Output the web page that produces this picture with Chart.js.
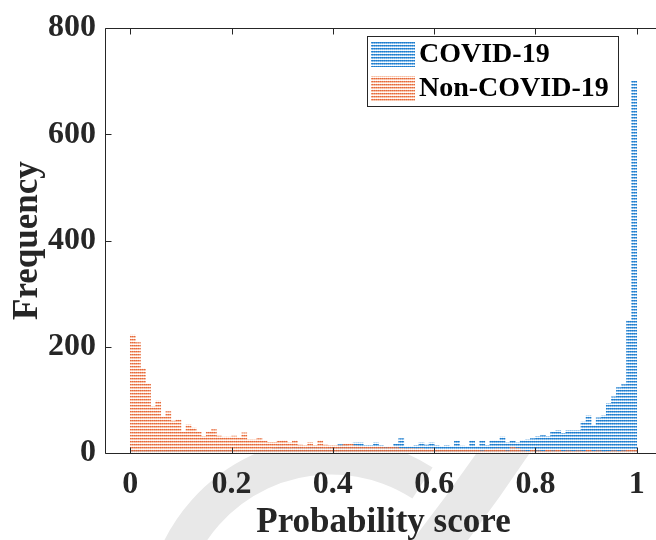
<!DOCTYPE html>
<html><head><meta charset="utf-8">
<script src="https://cdn.jsdelivr.net/npm/chart.js@4/dist/chart.umd.min.js"></script>
<style>
html,body{margin:0;padding:0;background:#fff;overflow:hidden;width:656px;height:540px;}
#wrap{position:absolute;left:0;top:0;width:680px;height:540px;}
</style></head><body>
<div id="wrap"><canvas id="c" width="680" height="540"></canvas></div>
<script>
const binCenters = [
0.005,0.015,0.025,0.035,0.045,0.055,0.065,0.075,0.085,0.095,
0.105,0.115,0.125,0.135,0.145,0.155,0.165,0.175,0.185,0.195,
0.205,0.215,0.225,0.235,0.245,0.255,0.265,0.275,0.285,0.295,
0.305,0.315,0.325,0.335,0.345,0.355,0.365,0.375,0.385,0.395,
0.405,0.415,0.425,0.435,0.445,0.455,0.465,0.475,0.485,0.495,
0.505,0.515,0.525,0.535,0.545,0.555,0.565,0.575,0.585,0.595,
0.605,0.615,0.625,0.635,0.645,0.655,0.665,0.675,0.685,0.695,
0.705,0.715,0.725,0.735,0.745,0.755,0.765,0.775,0.785,0.795,
0.805,0.815,0.825,0.835,0.845,0.855,0.865,0.875,0.885,0.895,
0.905,0.915,0.925,0.935,0.945,0.955,0.965,0.975,0.985,0.995];
const covid = [
6,5,4,6,4,5,4,5,6,4,
5,6,4,5,6,5,4,7,5,6,
5,7,6,5,7,6,8,7,9,13,
10,9,11,10,9,12,11,10,9,11,
10,16,15,12,19,19,14,14,19,14,
11,11,17,27,12,12,14,19,15,19,
14,12,14,12,23,13,12,23,12,23,
14,23,23,30,19,22,19,24,25,27,
31,33,31,39,42,37,42,42,42,58,
70,52,66,70,93,106,123,129,250,700];
const nonCovid = [
222,208,159,130,87,98,67,78,60,63,
39,53,47,39,31,40,44,32,30,30,
32,28,38,25,25,27,23,20,20,23,
24,19,24,15,14,20,14,24,15,14,
14,14,17,17,14,12,11,11,11,11,
10,11,10,9,8,9,8,9,7,8,
7,6,7,5,6,5,7,5,6,4,
5,6,8,5,4,10,9,4,3,5,
4,3,5,4,5,3,4,3,4,3,
5,3,4,2,3,4,3,4,6,5];
const xTicks = [0, 0.2, 0.4, 0.6, 0.8, 1];
const yTicks = [0, 200, 400, 600, 800];
const seriesLabels = ['COVID-19', 'Non-COVID-19'];
const xTitle = 'Probability score';
const yTitle = 'Frequency';

function makePattern(rows) {
  const c = document.createElement('canvas');
  c.width = 2; c.height = rows.length;
  const g = c.getContext('2d');
  rows.forEach((col, i) => {
    g.fillStyle = col[0]; g.fillRect(0, i, 1, 1);
    g.fillStyle = col[1]; g.fillRect(1, i, 1, 1);
  });
  return document.createElement('canvas').getContext('2d').createPattern(c, 'repeat');
}
const bluePat = makePattern([
  ['#1c7ccc', '#3a8fd6'],
  ['#7db6e6', '#a4cbee'],
  ['#eef5fc', '#ffffff']
]);
const orangePat = makePattern([
  ['rgba(228,98,48,0.95)', 'rgba(236,130,90,0.9)'],
  ['rgba(244,170,135,0.75)', 'rgba(248,190,160,0.7)'],
  ['rgba(253,232,222,0.55)', 'rgba(255,255,255,0.3)']
]);

const FONT = 'Liberation Serif, Times New Roman, serif';

// faint background watermark seen below the axes in the reference
const watermark = {
  id: 'watermark',
  beforeDraw(chart) {
    const ctx = chart.ctx;
    const a = chart.chartArea;
    ctx.save();
    ctx.beginPath();
    ctx.rect(0, a.bottom + 1, chart.width, chart.height - a.bottom);
    ctx.clip();
    ctx.strokeStyle = '#e8e8e8';
    ctx.lineCap = 'butt';
    ctx.lineWidth = 37;
    ctx.beginPath();
    ctx.arc(331, 624, 168, Math.PI * 200 / 180, Math.PI * 303 / 180);
    ctx.stroke();
    ctx.lineWidth = 44;
    ctx.beginPath();
    ctx.moveTo(425, 560);
    ctx.quadraticCurveTo(472, 500, 512, 440);
    ctx.stroke();
    ctx.restore();
  }
};

const overlay = {
  id: 'overlay',
  afterDraw(chart) {
    const ctx = chart.ctx;
    const a = chart.chartArea;
    const xs = chart.scales.x, ys = chart.scales.y;
    ctx.save();
    ctx.strokeStyle = '#262626';
    ctx.lineWidth = 1;
    ctx.beginPath();
    const T = Math.round(a.top) + 0.5, B = Math.round(a.bottom) + 0.5;
    const L = Math.round(a.left) + 0.5, R = Math.round(a.right) + 0.5;
    ctx.moveTo(L, T); ctx.lineTo(R, T); ctx.lineTo(R, B); ctx.lineTo(L, B); ctx.closePath();
    xTicks.forEach(v => {
      const px = Math.round(xs.getPixelForValue(v)) + 0.5;
      ctx.moveTo(px, B); ctx.lineTo(px, B - 6);
      ctx.moveTo(px, T); ctx.lineTo(px, T + 6);
    });
    yTicks.forEach(v => {
      const py = Math.round(ys.getPixelForValue(v)) + 0.5;
      ctx.moveTo(L, py); ctx.lineTo(L + 6, py);
    });
    ctx.stroke();

    // legend
    const bx = 367.5, by = 36.5, bw = 251, bh = 70;
    ctx.fillStyle = '#fff';
    ctx.fillRect(bx, by, bw, bh);
    ctx.strokeStyle = '#262626';
    ctx.strokeRect(bx, by, bw, bh);
    const pats = [bluePat, orangePat];
    const rowsY = [42, 76];
    ctx.font = 'bold 28px ' + FONT;
    ctx.textBaseline = 'middle';
    ctx.textAlign = 'left';
    seriesLabels.forEach((lab, i) => {
      ctx.fillStyle = pats[i];
      ctx.fillRect(371, rowsY[i], 44, 25);
      ctx.fillStyle = '#000';
      ctx.fillText(lab, 419, rowsY[i] + 13);
    });
    ctx.restore();
  }
};

new Chart(document.getElementById('c'), {
  type: 'bar',
  data: {
    datasets: [
      { label: seriesLabels[0], data: binCenters.map((x, i) => ({ x: x, y: covid[i] })),
        backgroundColor: bluePat, borderWidth: 0, grouped: false,
        barPercentage: 1, categoryPercentage: 1, order: 2 },
      { label: seriesLabels[1], data: binCenters.map((x, i) => ({ x: x, y: nonCovid[i] })),
        backgroundColor: orangePat, borderWidth: 0, grouped: false,
        barPercentage: 1, categoryPercentage: 1, order: 1 }
    ]
  },
  options: {
    responsive: false,
    animation: false,
    devicePixelRatio: 1,
    layout: { padding: { top: 23, right: 18, left: 0, bottom: 0 } },
    plugins: { legend: { display: false }, tooltip: { enabled: false } },
    scales: {
      x: {
        type: 'linear', min: -0.05, max: 1.05, offset: false,
        afterBuildTicks: s => { s.ticks = xTicks.map(v => ({ value: v })); },
        afterFit: s => { s.height = 87; },
        grid: { display: false, drawTicks: false, offset: false },
        border: { display: false },
        ticks: { font: { family: FONT, weight: 'bold', size: 32 }, color: '#262626', padding: 13,
                 maxRotation: 0, autoSkip: false, callback: v => String(v) },
        title: { display: true, text: xTitle, color: '#262626',
                 font: { family: FONT, weight: 'bold', size: 35, lineHeight: 1.0 }, padding: { top: 0, bottom: 0 } }
      },
      y: {
        min: 0, max: 800,
        afterBuildTicks: s => { s.ticks = yTicks.map(v => ({ value: v })); },
        afterFit: s => { s.width = 105; },
        grid: { display: false, drawTicks: false },
        border: { display: false },
        ticks: { font: { family: FONT, weight: 'bold', size: 32 }, color: '#262626', padding: 9 },
        title: { display: true, text: yTitle, color: '#262626',
                 font: { family: FONT, weight: 'bold', size: 35 }, padding: { top: 7, bottom: 0 } }
      }
    }
  },
  plugins: [watermark, overlay]
});
</script>
</body></html>
